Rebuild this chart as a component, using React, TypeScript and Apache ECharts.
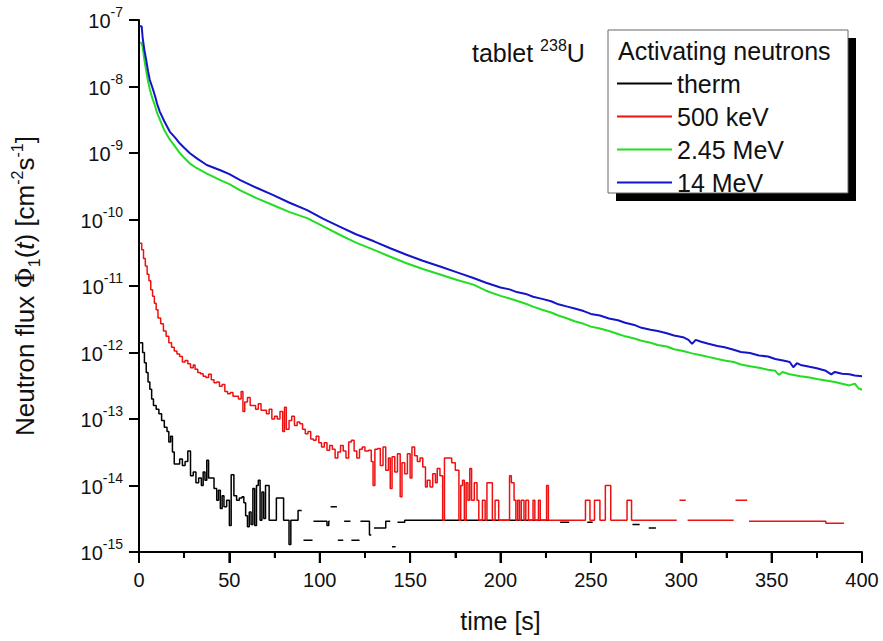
import { useEffect, useRef } from "react";
import * as echarts from "echarts";

type Pt = [number, number | null];

const FONT = "Liberation Sans";
const INK = "#000000";

const SERIES_NAMES = ["therm", "500 keV", "2.45 MeV", "14 MeV"];
const SERIES_COLORS = ["#000000", "#ee1111", "#22dd22", "#1414c8"];

const THERM: Pt[] = [
  [0, 1.4e-12], [1, 1.4e-12], [2, 1.0e-12], [3, 7e-13], [4, 5e-13], [5, 3.6e-13], [6, 2.8e-13], [7, 2.0e-13],
  [8, 1.6e-13], [9.5, 1.4e-13], [11, 1.2e-13], [12.5, 9.5e-14], [14, 7.5e-14], [15.5, 6.5e-14], [16.5, 4.5e-14],
  [17.5, 5.5e-14], [18.5, 3.2e-14], [19.5, 2.1e-14], [21, 2.1e-14], [22.5, 2.5e-14], [24, 2.0e-14], [25.5, 2.3e-14],
  [27, 3.3e-14], [28.5, 1.4e-14], [30, 1.6e-14], [31.5, 1.1e-14], [33, 1.3e-14], [34.5, 1.0e-14], [35.5, 1.6e-14],
  [36.5, 1.2e-14], [37.5, 2.4e-14], [38.5, 1.3e-14], [40, 1.3e-14], [41.5, 9e-15], [43, 6e-15], [44, 8.5e-15],
  [45, 4.5e-15], [46, 7e-15], [47, 4.8e-15], [48.5, 6e-15], [50, 2.5e-15], [51, 1.45e-14], [52.5, 7e-15],
  [54, 6e-15], [55.5, 6.5e-15], [57, 6.8e-15], [58, 5.5e-15], [59, 3.5e-15], [60, 2.4e-15], [61, 4e-15],
  [62, 2.6e-15], [63, 9e-15], [64, 2.5e-15], [65, 1.0e-14], [66, 1.2e-14], [67, 3e-15], [68, 8e-15],
  [69, 3.2e-15], [70, 1.0e-14], [72, 3e-15], [76, 6.5e-15], [80, 3e-15], [83, 1.3e-15], [84, 3e-15],
  [87, 3e-15], [88, 4.2e-15], [90, 4.2e-15], [90.2, null],
  [91, 1.5e-15], [96, 1.5e-15], [96.2, null],
  [96.5, 2.9e-15], [103, 2.9e-15], [104, 2.5e-15], [105, 2.9e-15], [105.5, 2.9e-15], [105.7, null],
  [106, 4.8e-15], [109.5, 4.8e-15], [109.7, null],
  [110, 1.5e-15], [113, 1.5e-15], [113.2, null],
  [113.5, 2.9e-15], [117, 2.9e-15], [117.2, null],
  [117.5, 1.5e-15], [122, 1.5e-15], [122.2, null],
  [122.5, 2.9e-15], [127, 2.9e-15], [127.5, 1.8e-15], [128.5, 1.8e-15], [128.7, null],
  [130, 2.3e-15], [136, 2.3e-15], [136.5, 2.9e-15], [139, 2.9e-15], [139.2, null],
  [140, 1.2e-15], [142, 1.2e-15], [142.2, null],
  [143, 2.8e-15], [146, 2.8e-15], [147, 3.0e-15], [227, 3.0e-15], [227.2, null],
  [233, 2.8e-15], [238, 2.8e-15], [238.2, null],
  [248, 2.8e-15], [251, 2.8e-15], [251.2, null],
  [273, 2.6e-15], [277, 2.6e-15], [277.2, null],
  [282, 2.3e-15], [286, 2.3e-15],
];

const KEV500: Pt[] = [
  [0.5, 4.4e-11], [1.5, 3.5e-11], [2.5, 2.6e-11], [3.5, 2.0e-11], [4.5, 1.5e-11], [5.5, 1.2e-11], [6.5, 8.8e-12],
  [7.5, 7.0e-12], [8.5, 5.5e-12], [9.5, 4.4e-12], [10.5, 3.3e-12], [12, 2.7e-12], [13.5, 2.1e-12], [15, 1.75e-12],
  [16.5, 1.4e-12], [18, 1.2e-12], [19.5, 1.05e-12], [21, 9.5e-13], [22.5, 8.7e-13], [24, 7.2e-13], [25.5, 7.6e-13],
  [27, 6.8e-13], [28.5, 5.9e-13], [30, 6.5e-13], [31, 5.6e-13], [32.5, 5.0e-13], [34, 4.8e-13], [35.5, 4.4e-13],
  [37, 4.2e-13], [38.5, 4.7e-13], [40, 3.9e-13], [41.5, 3.5e-13], [43, 3.6e-13], [44.5, 3.1e-13], [46, 3.3e-13],
  [47.5, 2.6e-13], [49, 2.4e-13], [50.5, 2.5e-13], [52, 2.2e-13], [53.5, 2.2e-13], [55, 2.0e-13], [56.5, 2.6e-13],
  [57.5, 1.3e-13], [58.5, 1.8e-13], [60, 2.1e-13], [61.5, 1.6e-13], [63, 1.6e-13], [64.5, 1.4e-13], [66, 1.7e-13],
  [67.5, 1.35e-13], [69, 1.35e-13], [70.5, 1.2e-13], [72, 1.4e-13], [73.5, 1.0e-13], [75, 1.1e-13], [76.5, 1.0e-13],
  [78, 1.3e-13], [79.5, 6.5e-14], [80.5, 1.5e-13], [81.5, 7e-14], [83, 9.5e-14], [84.5, 1.1e-13], [86, 8e-14],
  [87.5, 9e-14], [89, 8.5e-14], [90.5, 7e-14], [92, 6e-14], [93.5, 6.5e-14], [95, 5e-14], [96.5, 4.8e-14],
  [98, 5.5e-14], [99.5, 4.4e-14], [101, 3.8e-14], [102.5, 4.4e-14], [104, 3.4e-14], [105.5, 4.0e-14], [107, 3.5e-14],
  [108.5, 2.6e-14], [110, 3.2e-14], [111.5, 4.0e-14], [113, 3.3e-14], [114.5, 2.6e-14], [116, 4.5e-14], [117.5, 4.8e-14],
  [119, 3.3e-14], [120.5, 2.6e-14], [122, 3.5e-14], [123.5, 3.8e-14], [125, 3.3e-14], [127, 3.4e-14], [128.5, 2.3e-14],
  [129.5, 1.0e-14], [130.5, 3.5e-14], [132, 3.6e-14], [133.5, 2.0e-14], [135, 3.8e-14], [136.5, 1.7e-14], [138, 2.6e-14],
  [139, 9.0e-15], [140, 2.7e-14], [141.5, 1.6e-14], [143, 3.0e-14], [144.5, 6.8e-15], [145.5, 2.2e-14], [147, 1.5e-14],
  [148.5, 3.0e-14], [150, 1.3e-14], [151, 3.8e-14], [152.5, 2.8e-14], [154, 2.3e-14], [155.5, 2.6e-14], [157, 1.9e-14],
  [158.5, 9.5e-15], [159.5, 1.2e-14], [161, 9.5e-15], [162.5, 1.5e-14], [164, 1.1e-14], [165, 1.8e-14], [166.5, 1.4e-14],
  [168, 3.0e-15], [169, 2.6e-14], [173, 2.2e-14], [175, 1.7e-14], [177, 3.0e-15], [178, 1.0e-14], [179, 1.2e-14],
  [180, 3e-15], [181, 1.1e-14], [182, 6e-15], [183, 1.8e-14], [184, 6e-15], [185.5, 1.1e-14], [187, 6e-15],
  [188, 3e-15], [190, 6e-15], [191.5, 3e-15], [192.5, 1.1e-14], [195.5, 3e-15], [197, 6e-15], [199, 3e-15],
  [205, 1.4e-14], [206, 1.1e-14], [207.5, 6e-15], [208.5, 3e-15], [209.5, 6e-15], [210.5, 3e-15], [211.5, 6e-15],
  [213, 3e-15], [214, 6e-15], [215.5, 3e-15], [218, 6e-15], [219, 3e-15], [221, 6e-15], [222, 3e-15],
  [225.5, 1.0e-14], [226.5, 3e-15], [247, 6e-15], [249.5, 3e-15], [252, 6e-15], [255, 3e-15], [258, 1.0e-14],
  [261, 3e-15], [270, 6e-15], [272.5, 3e-15], [297.5, 3e-15], [297.7, null],
  [299, 6e-15], [302.5, 6e-15], [302.7, null],
  [303.5, 3e-15], [329, 3e-15], [329.2, null],
  [330, 6e-15], [336.5, 6e-15], [336.7, null],
  [337.5, 2.9e-15], [365, 2.9e-15], [380, 2.7e-15], [390, 2.7e-15],
];

const MEV245: Pt[] = [
  [1, 4.7e-8], [2, 4.0e-8], [3, 2.5e-8], [4, 1.7e-8], [5, 1.2e-8], [6, 9.0e-9], [7.5, 6.5e-9], [9, 5.0e-9],
  [10, 4.0e-9], [11.5, 3.2e-9], [14, 2.2e-9], [17, 1.6e-9], [20, 1.25e-9], [22.5, 1.0e-9], [25, 8.5e-10],
  [28, 7.0e-10], [32, 5.9e-10], [37.5, 4.9e-10], [45, 3.9e-10], [50, 3.4e-10], [56, 2.75e-10], [65, 2.1e-10],
  [74, 1.65e-10], [83, 1.3e-10], [93, 1.05e-10], [102, 7.9e-11], [111, 5.9e-11], [120, 4.5e-11], [130, 3.5e-11],
  [139, 2.75e-11], [148, 2.2e-11], [157, 1.8e-11], [167, 1.48e-11], [176, 1.23e-11], [185, 1.05e-11], [192, 8.5e-12],
  [200, 7.1e-12], [205, 6.5e-12], [209, 6.0e-12], [214, 5.4e-12], [218, 4.9e-12], [223, 4.4e-12], [228, 4.0e-12],
  [232, 3.6e-12], [237, 3.25e-12], [241, 2.95e-12], [246, 2.7e-12], [250, 2.45e-12], [255, 2.3e-12], [260, 2.1e-12],
  [265, 1.9e-12], [269, 1.75e-12], [274, 1.62e-12], [278, 1.5e-12], [283, 1.4e-12], [287, 1.3e-12], [292, 1.23e-12],
  [296, 1.12e-12], [301, 1.05e-12], [306, 9.7e-13], [311, 9.1e-13], [315, 8.6e-13], [320, 8.0e-13], [324, 7.6e-13],
  [329, 7.2e-13], [333, 6.6e-13], [338, 6.2e-13], [343, 5.9e-13], [348, 5.5e-13], [352, 5.3e-13], [354, 4.6e-13],
  [356, 5.1e-13], [360, 4.7e-13], [366, 4.4e-13], [371, 4.2e-13], [375, 4.0e-13], [380, 3.8e-13], [385, 3.6e-13],
  [389, 3.4e-13], [393, 3.2e-13], [396, 3.4e-13], [398, 2.9e-13], [400, 2.75e-13],
];

const MEV14: Pt[] = [
  [0.3, 8.1e-8], [1.5, 8.0e-8], [2, 5.5e-8], [3, 3.5e-8], [4, 2.5e-8], [5, 1.7e-8], [6, 1.25e-8], [7.5, 9.5e-9],
  [9, 7.0e-9], [10, 5.5e-9], [11.5, 4.2e-9], [14, 3.0e-9], [17, 2.1e-9], [20, 1.7e-9], [22.5, 1.4e-9], [25, 1.2e-9],
  [28, 1.0e-9], [32, 8.3e-10], [37.5, 6.6e-10], [45, 5.5e-10], [50, 4.8e-10], [56, 3.9e-10], [65, 3.0e-10],
  [74, 2.35e-10], [83, 1.8e-10], [93, 1.38e-10], [102, 1.02e-10], [111, 7.8e-11], [120, 6.0e-11], [130, 4.7e-11],
  [139, 3.7e-11], [148, 2.95e-11], [157, 2.4e-11], [167, 1.95e-11], [176, 1.6e-11], [185, 1.32e-11], [192, 1.12e-11],
  [200, 9.5e-12], [205, 8.9e-12], [209, 8.1e-12], [214, 7.6e-12], [218, 6.9e-12], [223, 6.4e-12], [228, 5.9e-12],
  [232, 5.3e-12], [237, 4.9e-12], [241, 4.6e-12], [246, 4.2e-12], [250, 3.8e-12], [255, 3.6e-12], [260, 3.25e-12],
  [265, 3.05e-12], [269, 2.8e-12], [274, 2.6e-12], [278, 2.35e-12], [283, 2.2e-12], [287, 2.1e-12], [292, 1.95e-12],
  [296, 1.8e-12], [301, 1.7e-12], [304, 1.55e-12], [306, 1.35e-12], [308, 1.55e-12], [311, 1.45e-12], [315, 1.35e-12],
  [320, 1.25e-12], [324, 1.2e-12], [329, 1.1e-12], [333, 1.02e-12], [338, 9.8e-13], [343, 9.0e-13], [348, 8.7e-13],
  [352, 8.0e-13], [357, 7.5e-13], [360, 7.2e-13], [362, 6.0e-13], [364, 6.9e-13], [366, 6.5e-13], [371, 6.1e-13],
  [375, 5.8e-13], [380, 5.3e-13], [383, 4.7e-13], [385, 5.1e-13], [389, 4.8e-13], [393, 4.7e-13], [396, 4.5e-13],
  [400, 4.4e-13],
];

const X_MIN = 0;
const X_MAX = 400;
const X_STEP = 50;
const Y_MIN_EXP = -15;
const Y_MAX_EXP = -7;
const MINOR_MULTIPLES = [2, 3, 4, 5, 6, 7, 8, 9];
// tick lengths expressed in axis units (about 10 px / 6 px on the y side, 11 px / 6 px below the x axis)
const Y_TICK_MAJOR_DX = 5.5;
const Y_TICK_MINOR_DX = 3.3;
const X_TICK_MAJOR_DEC = 0.165;
const X_TICK_MINOR_DEC = 0.09;

const toSeriesData = (pts: Pt[]) => pts.map(([t, v]) => [t, v === null ? "-" : v]);

export default function App() {
  const ref = useRef<HTMLDivElement>(null);

  useEffect(() => {
    if (!ref.current) return;
    const chart = echarts.init(ref.current, null, { renderer: "svg" });

    const datasets = [THERM, KEV500, MEV245, MEV14];

    const lineSeries: any[] = datasets.map((d, i) => ({
      name: SERIES_NAMES[i],
      type: "line",
      step: i < 2 ? "end" : false,
      data: toSeriesData(d),
      symbol: "none",
      showSymbol: false,
      connectNulls: false,
      lineStyle: { color: SERIES_COLORS[i], width: i < 2 ? 1.5 : 2 },
      itemStyle: { color: SERIES_COLORS[i] },
      z: 3 + i,
    }));

    // tick marks as short segments of a line series, placed by the axes' own scales
    const yMin = Math.pow(10, Y_MIN_EXP);
    const majorTicks: any[] = [];
    const minorTicks: any[] = [];
    for (let e = Y_MIN_EXP; e <= Y_MAX_EXP; e++) {
      const base = Math.pow(10, e);
      majorTicks.push([X_MIN - Y_TICK_MAJOR_DX, base], [X_MIN, base], [X_MIN, "-"]);
      if (e < Y_MAX_EXP) {
        for (const m of MINOR_MULTIPLES) {
          minorTicks.push([X_MIN - Y_TICK_MINOR_DX, m * base], [X_MIN, m * base], [X_MIN, "-"]);
        }
      }
    }
    for (let x = X_MIN; x <= X_MAX; x += X_STEP) {
      majorTicks.push([x, yMin], [x, yMin * Math.pow(10, -X_TICK_MAJOR_DEC)], [x, "-"]);
      if (x < X_MAX) {
        const xm = x + X_STEP / 2;
        minorTicks.push([xm, yMin], [xm, yMin * Math.pow(10, -X_TICK_MINOR_DEC)], [xm, "-"]);
      }
    }
    const tickSeries = (data: any[], width: number) => ({
      type: "line",
      silent: true,
      clip: false,
      data,
      symbol: "none",
      showSymbol: false,
      connectNulls: false,
      lineStyle: { color: INK, width },
      z: 9,
      legendHoverLink: false,
    });

    const option: any = {
      animation: false,
      backgroundColor: "#ffffff",
      textStyle: { fontFamily: FONT },
      grid: { left: 139, right: 21, top: 20, bottom: 89 },
      xAxis: {
        type: "value",
        min: X_MIN,
        max: X_MAX,
        interval: X_STEP,
        axisLine: { show: true, lineStyle: { color: "#000", width: 2 } },
        axisTick: { show: true, inside: false, length: 11, lineStyle: { color: INK, width: 2 } },
        minorTick: { show: true, splitNumber: 2, length: 6, lineStyle: { color: INK, width: 2 } },
        splitLine: { show: false },
        minorSplitLine: { show: false },
        axisLabel: { fontSize: 20, color: "#111", margin: 18, fontFamily: FONT },
        name: "time [s]",
        nameLocation: "middle",
        nameGap: 56,
        nameTextStyle: { fontSize: 25, color: "#111", fontFamily: FONT },
      },
      yAxis: {
        type: "log",
        logBase: 10,
        min: Math.pow(10, Y_MIN_EXP),
        max: Math.pow(10, Y_MAX_EXP),
        interval: 1,
        axisLine: { show: true, lineStyle: { color: "#000", width: 2 } },
        axisTick: { show: true, inside: false, length: 10, lineStyle: { color: INK, width: 2 } },
        splitLine: { show: false },
        axisLabel: {
          margin: 16,
          color: "#111",
          formatter: (v: number) => `{b|10}{s|${Math.round(Math.log10(v))}}`,
          rich: {
            b: { fontSize: 20, lineHeight: 22, verticalAlign: "bottom", color: "#111", fontFamily: FONT },
            s: { fontSize: 14, lineHeight: 14, padding: [0, 0, 12, 0], verticalAlign: "bottom", color: "#111", fontFamily: FONT },
          },
        },
        name: "{a|Neutron flux }{phi|Φ}{sub|1}{a|(}{it|t}{a|) [cm}{sup|-2}{a|s}{sup|-1}{a|]}",
        nameLocation: "middle",
        nameGap: 97,
        nameTextStyle: {
          color: "#111",
          rich: {
            a: { fontSize: 26, lineHeight: 28, padding: [0, 0, 4, 0], verticalAlign: "bottom", color: "#111", fontFamily: FONT },
            phi: { fontSize: 26, lineHeight: 28, padding: [0, 0, 4, 0], verticalAlign: "bottom", color: "#111", fontFamily: "DejaVu Serif" },
            it: { fontSize: 26, lineHeight: 28, padding: [0, 0, 4, 0], verticalAlign: "bottom", color: "#111", fontFamily: FONT, fontStyle: "italic" },
            sub: { fontSize: 16, lineHeight: 16, verticalAlign: "bottom", color: "#111", fontFamily: FONT },
            sup: { fontSize: 16, lineHeight: 16, padding: [0, 0, 17, 0], verticalAlign: "bottom", color: "#111", fontFamily: FONT },
          },
        },
      },
      legend: {
        data: SERIES_NAMES,
        orient: "vertical",
        left: 617,
        top: 71,
        padding: 0,
        icon: "rect",
        itemWidth: 55,
        itemHeight: 2,
        itemGap: 8,
        selectedMode: false,
        z: 10,
        textStyle: { fontSize: 25, lineHeight: 25, color: "#111", fontFamily: FONT },
      },
      graphic: {
        elements: [
          { type: "rect", z: 5, shape: { x: 616, y: 38, width: 240, height: 163 }, style: { fill: "#000" } },
          { type: "rect", z: 6, shape: { x: 608, y: 30, width: 240, height: 163 }, style: { fill: "#fff", stroke: "#666", lineWidth: 1 } },
          {
            type: "text",
            z: 7,
            x: 618,
            y: 51,
            style: { text: "Activating neutrons", fontSize: 25, fontFamily: FONT, fill: "#111", verticalAlign: "middle" },
          },
          {
            type: "text",
            z: 7,
            x: 472,
            y: 52,
            style: {
              text: "{a|tablet }{s|238}{a|U}",
              verticalAlign: "middle",
              fill: "#111",
              rich: {
                a: { fontSize: 25, lineHeight: 26, verticalAlign: "bottom", fontFamily: FONT, fill: "#111" },
                s: { fontSize: 16, lineHeight: 16, padding: [0, 0, 12, 0], verticalAlign: "bottom", fontFamily: FONT, fill: "#111" },
              },
            },
          },
        ],
      },
      series: [...lineSeries, tickSeries(majorTicks, 2), tickSeries(minorTicks, 1.5)],
    };

    chart.setOption(option);
    return () => chart.dispose();
  }, []);

  return <div ref={ref} style={{ position: "fixed", left: 0, top: 0, width: 883, height: 641 }} />;
}
